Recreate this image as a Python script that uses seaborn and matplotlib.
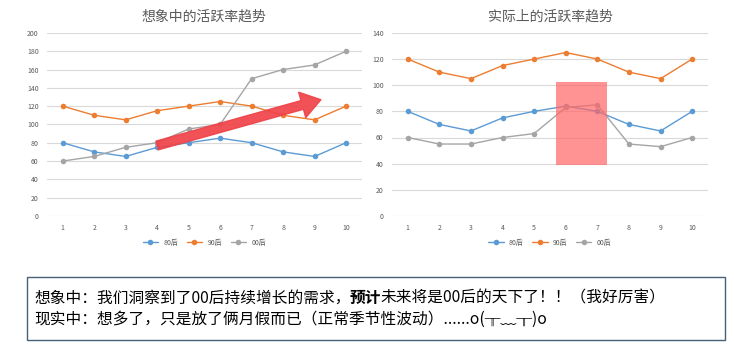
import numpy as np
import pandas as pd
import matplotlib
matplotlib.use("Agg")
import matplotlib.pyplot as plt
import seaborn as sns
from matplotlib.patches import Rectangle

# -------------------------------------------------------------------
# data
# -------------------------------------------------------------------
months = [1, 2, 3, 4, 5, 6, 7, 8, 9, 10]
groups = ["80后", "90后", "00后"]
colors = ["#5B9BD5", "#ED7D31", "#A5A5A5"]

# imagined trend
imag_80 = [80, 70, 65, 75, 80, 85, 80, 70, 65, 80]
imag_90 = [120, 110, 105, 115, 120, 125, 120, 110, 105, 120]
imag_00 = [60, 65, 75, 80, 95, 100, 150, 160, 165, 180]

# actual trend
real_80 = [80, 70, 65, 75, 80, 84, 80, 70, 65, 80]
real_90 = [120, 110, 105, 115, 120, 125, 120, 110, 105, 120]
real_00 = [60, 55, 55, 60, 63, 83, 85, 55, 53, 60]

titles = ["想象中的活跃率趋势", "实际上的活跃率趋势"]
yticks_left = [0, 20, 40, 60, 80, 100, 120, 140, 160, 180, 200]
yticks_right = [0, 20, 40, 60, 80, 100, 120, 140]

# annotations (data coords)
arrow_tail = (4, 77)
arrow_head = (9.2, 127)
box_x = (5.68, 7.29)
box_y = (39, 102.5)

line1 = [("想象中：我们洞察到了00后持续增长的需求，", "normal"),
         ("预计", "bold"),
         ("未来将是00后的天下了！！（我好厉害）", "normal")]
line2 = [("现实中：想多了，只是放了俩月假而已（正常季节性波动）......o(╥﹏╥)o", "normal")]


def to_long(s80, s90, s00):
    rows = []
    for g, vals in zip(groups, [s80, s90, s00]):
        for m, v in zip(months, vals):
            rows.append({"month": m, "value": v, "group": g})
    return pd.DataFrame(rows)


def style_axis(ax, yticks, title):
    ax.set_xlim(0.5, 10.5)
    ax.set_ylim(0, yticks[-1])
    ax.set_xticks(months)
    ax.set_yticks(yticks)
    ax.tick_params(length=0, labelsize=5, labelcolor="#595959", pad=6)
    for s in ax.spines.values():
        s.set_visible(False)
    ax.yaxis.grid(True, color="#D9D9D9", linewidth=0.8)
    ax.set_axisbelow(True)
    ax.set_xlabel("")
    ax.set_ylabel("")
    ax.set_title(title, fontsize=10, color="#595959", pad=9)
    ax.legend(loc="upper center", bbox_to_anchor=(0.5, -0.09), ncol=3,
              frameon=False, fontsize=5, handlelength=2.2, columnspacing=1.2,
              labelcolor="#595959")


def draw_segments(fig, x, y, segments, size):
    r = fig.canvas.get_renderer()
    for s, w in segments:
        t = fig.text(x, y, s, fontsize=size, fontweight=w, va="center",
                     color="black")
        bb = t.get_window_extent(renderer=r)
        x += (bb.width - 1) / fig.bbox.width


def main():
    sns.set_theme(style="white")
    plt.rcParams["font.family"] = ["Noto Sans CJK SC", "DejaVu Sans"]

    fig = plt.figure(figsize=(7.34, 3.5), dpi=100)
    ax1 = fig.add_axes([0.064, 0.383, 0.429, 0.523])
    ax2 = fig.add_axes([0.534, 0.383, 0.4305, 0.523])

    kw = dict(x="month", y="value", hue="group", hue_order=groups,
              palette=colors, marker="o", markersize=4, markeredgewidth=0,
              linewidth=1)
    sns.lineplot(data=to_long(imag_80, imag_90, imag_00), ax=ax1, **kw)
    sns.lineplot(data=to_long(real_80, real_90, real_00), ax=ax2, **kw)

    style_axis(ax1, yticks_left, titles[0])
    style_axis(ax2, yticks_right, titles[1])

    ax1.annotate("", xy=arrow_head, xytext=arrow_tail,
                 arrowprops=dict(arrowstyle="simple,head_length=1.4,head_width=1.9,tail_width=0.65",
                                 mutation_scale=10, color="#EF4349", alpha=0.92,
                                 shrinkA=0, shrinkB=0), zorder=5)

    ax2.add_patch(Rectangle((box_x[0], box_y[0]), box_x[1] - box_x[0],
                            box_y[1] - box_y[0], facecolor="#FF6666",
                            alpha=0.7, edgecolor="none", zorder=5))

    # text box at bottom
    fig.patches.append(Rectangle((27 / 734, 1 - 340 / 350), 698 / 734, 63 / 350,
                                 transform=fig.transFigure, fill=False,
                                 edgecolor="#44607A", linewidth=1))
    draw_segments(fig, 34 / 734, 1 - 298 / 350, line1, 11.3)
    draw_segments(fig, 34 / 734, 1 - 319 / 350, line2, 11.3)

    fig.savefig("out.png", dpi=100)


if __name__ == "__main__":
    main()
